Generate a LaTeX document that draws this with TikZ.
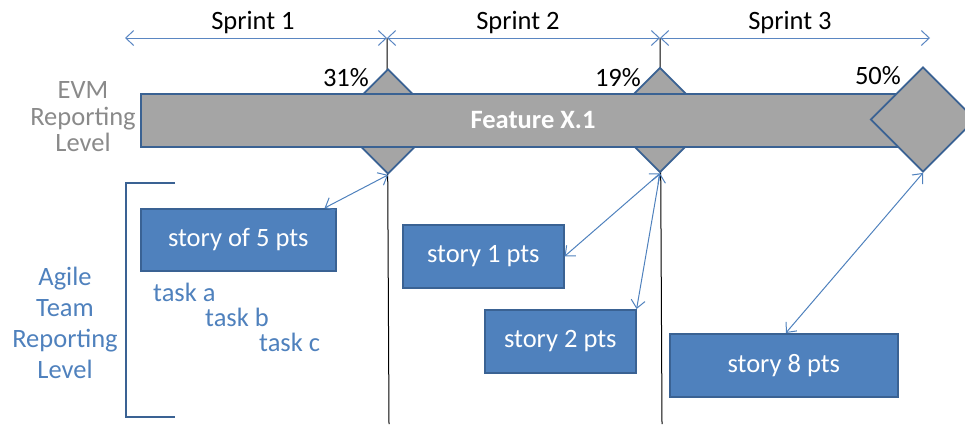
\documentclass[tikz,border=0pt]{standalone}
\usepackage{fontspec}
\setmainfont{Carlito}
\usetikzlibrary{arrows.meta,shapes.geometric}

\definecolor{storyfill}{HTML}{4F81BD}
\definecolor{storyedge}{HTML}{3A6293}
\definecolor{barfill}{HTML}{A5A5A5}
\definecolor{linkblue}{HTML}{4F81BD}
\definecolor{spanblue}{HTML}{5A86C2}
\definecolor{evmgray}{HTML}{8A8A8A}

\tikzset{
  txt/.style={font=\fontsize{26.5}{27}\selectfont, inner sep=0pt},
  story/.style={draw=storyedge, line width=1.6pt, fill=storyfill, text=white,
    font=\fontsize{26.5}{27}\selectfont, inner sep=0pt, anchor=north west},
  milestone/.style={diamond, draw=storyedge, line width=1.8pt, fill=barfill,
    minimum width=105pt, minimum height=105pt, inner sep=0pt},
  span/.style={draw=spanblue, line width=1pt,
    {Straight Barb[length=8pt,width=15pt]}-{Straight Barb[length=8pt,width=15pt]}},
  link/.style={draw=linkblue, line width=1pt,
    {Straight Barb[length=8pt,width=14pt]}-{Straight Barb[length=8pt,width=14pt]}},
  divider/.style={draw=black, line width=1pt},
}

\begin{document}
\begin{tikzpicture}[x=1pt,y=-1pt]
\useasboundingbox (0,0) rectangle (965,424);

% sprint boundaries
\coordinate (t0) at (125,38);
\coordinate (t1) at (387,38);
\coordinate (t2) at (660,38);
\coordinate (t3) at (930,38);
\coordinate (b1) at (389,424);
\coordinate (b2) at (662,424);

\draw[divider] (t1) -- (b1);
\draw[divider] (t2) -- (b2);

\draw[span] (t0) -- (t1);
\draw[span] (t1) -- (t2);
\draw[span] (t2) -- (t3);

\node[txt] (sp1) at (253,23) {Sprint 1};
\node[txt] (sp2) at (518,23) {Sprint 2};
\node[txt] (sp3) at (790,23) {Sprint 3};

% milestones and the feature bar
\node[milestone] (d1) at (388,121.5) {};
\node[milestone] (d2) at (660,120) {};
\node[draw=storyedge, line width=1.8pt, fill=barfill, minimum width=790pt,
  minimum height=53pt, inner sep=0pt, anchor=north west] (bar) at (140,93) {};
\node[milestone] (d3) at (923,119.5) {};
\node[txt, font=\fontsize{26.5}{27}\selectfont\bfseries, text=white] (feat) at (533,120) {Feature X.1};

\node[txt, anchor=east] (p1) at (369,78) {31\%};
\node[txt, anchor=east] (p2) at (641,78) {19\%};
\node[txt, anchor=east] (p3) at (901,76) {50\%};

% level labels
\node[txt, text=evmgray, align=center, font=\fontsize{26.5}{26.5}\selectfont] (evm) at (83,117) {EVM\\Reporting\\Level};
\node[txt, text=storyfill, align=center, font=\fontsize{26.5}{31}\selectfont] (agile) at (65,323) {Agile\\Team\\Reporting\\Level};

% bracket around the team level
\coordinate (k1) at (175,183);
\coordinate (k2) at (126,183);
\coordinate (k3) at (126,417);
\coordinate (k4) at (175,417);
\draw[draw=storyedge, line width=2.6pt] (k1) -- (k2) -- (k3) -- (k4);

% stories
\node[story, minimum width=195pt, minimum height=62pt] (s5) at (140,208) {story of 5 pts};
\node[story, minimum width=161pt, minimum height=63pt] (s1) at (402,224) {story 1 pts};
\node[story, minimum width=151pt, minimum height=63pt] (s2) at (484,309) {story 2 pts};
\node[story, minimum width=228pt, minimum height=63pt] (s8) at (669,333) {story 8 pts};

\node[txt, text=storyfill, anchor=west] (ta) at (153,292) {task a};
\node[txt, text=storyfill, anchor=west] (tb) at (205,317) {task b};
\node[txt, text=storyfill, anchor=west] (tc) at (259,342) {task c};

% links from stories to milestones
\draw[link] ([xshift=-12pt]s5.north east) -- (d1.south);
\draw[link] (s1.east) -- (d2.south);
\draw[link] (s2.north east) -- (d2.south);
\draw[link] ([xshift=2pt]s8.north) -- (d3.south);
\end{tikzpicture}
\end{document}
